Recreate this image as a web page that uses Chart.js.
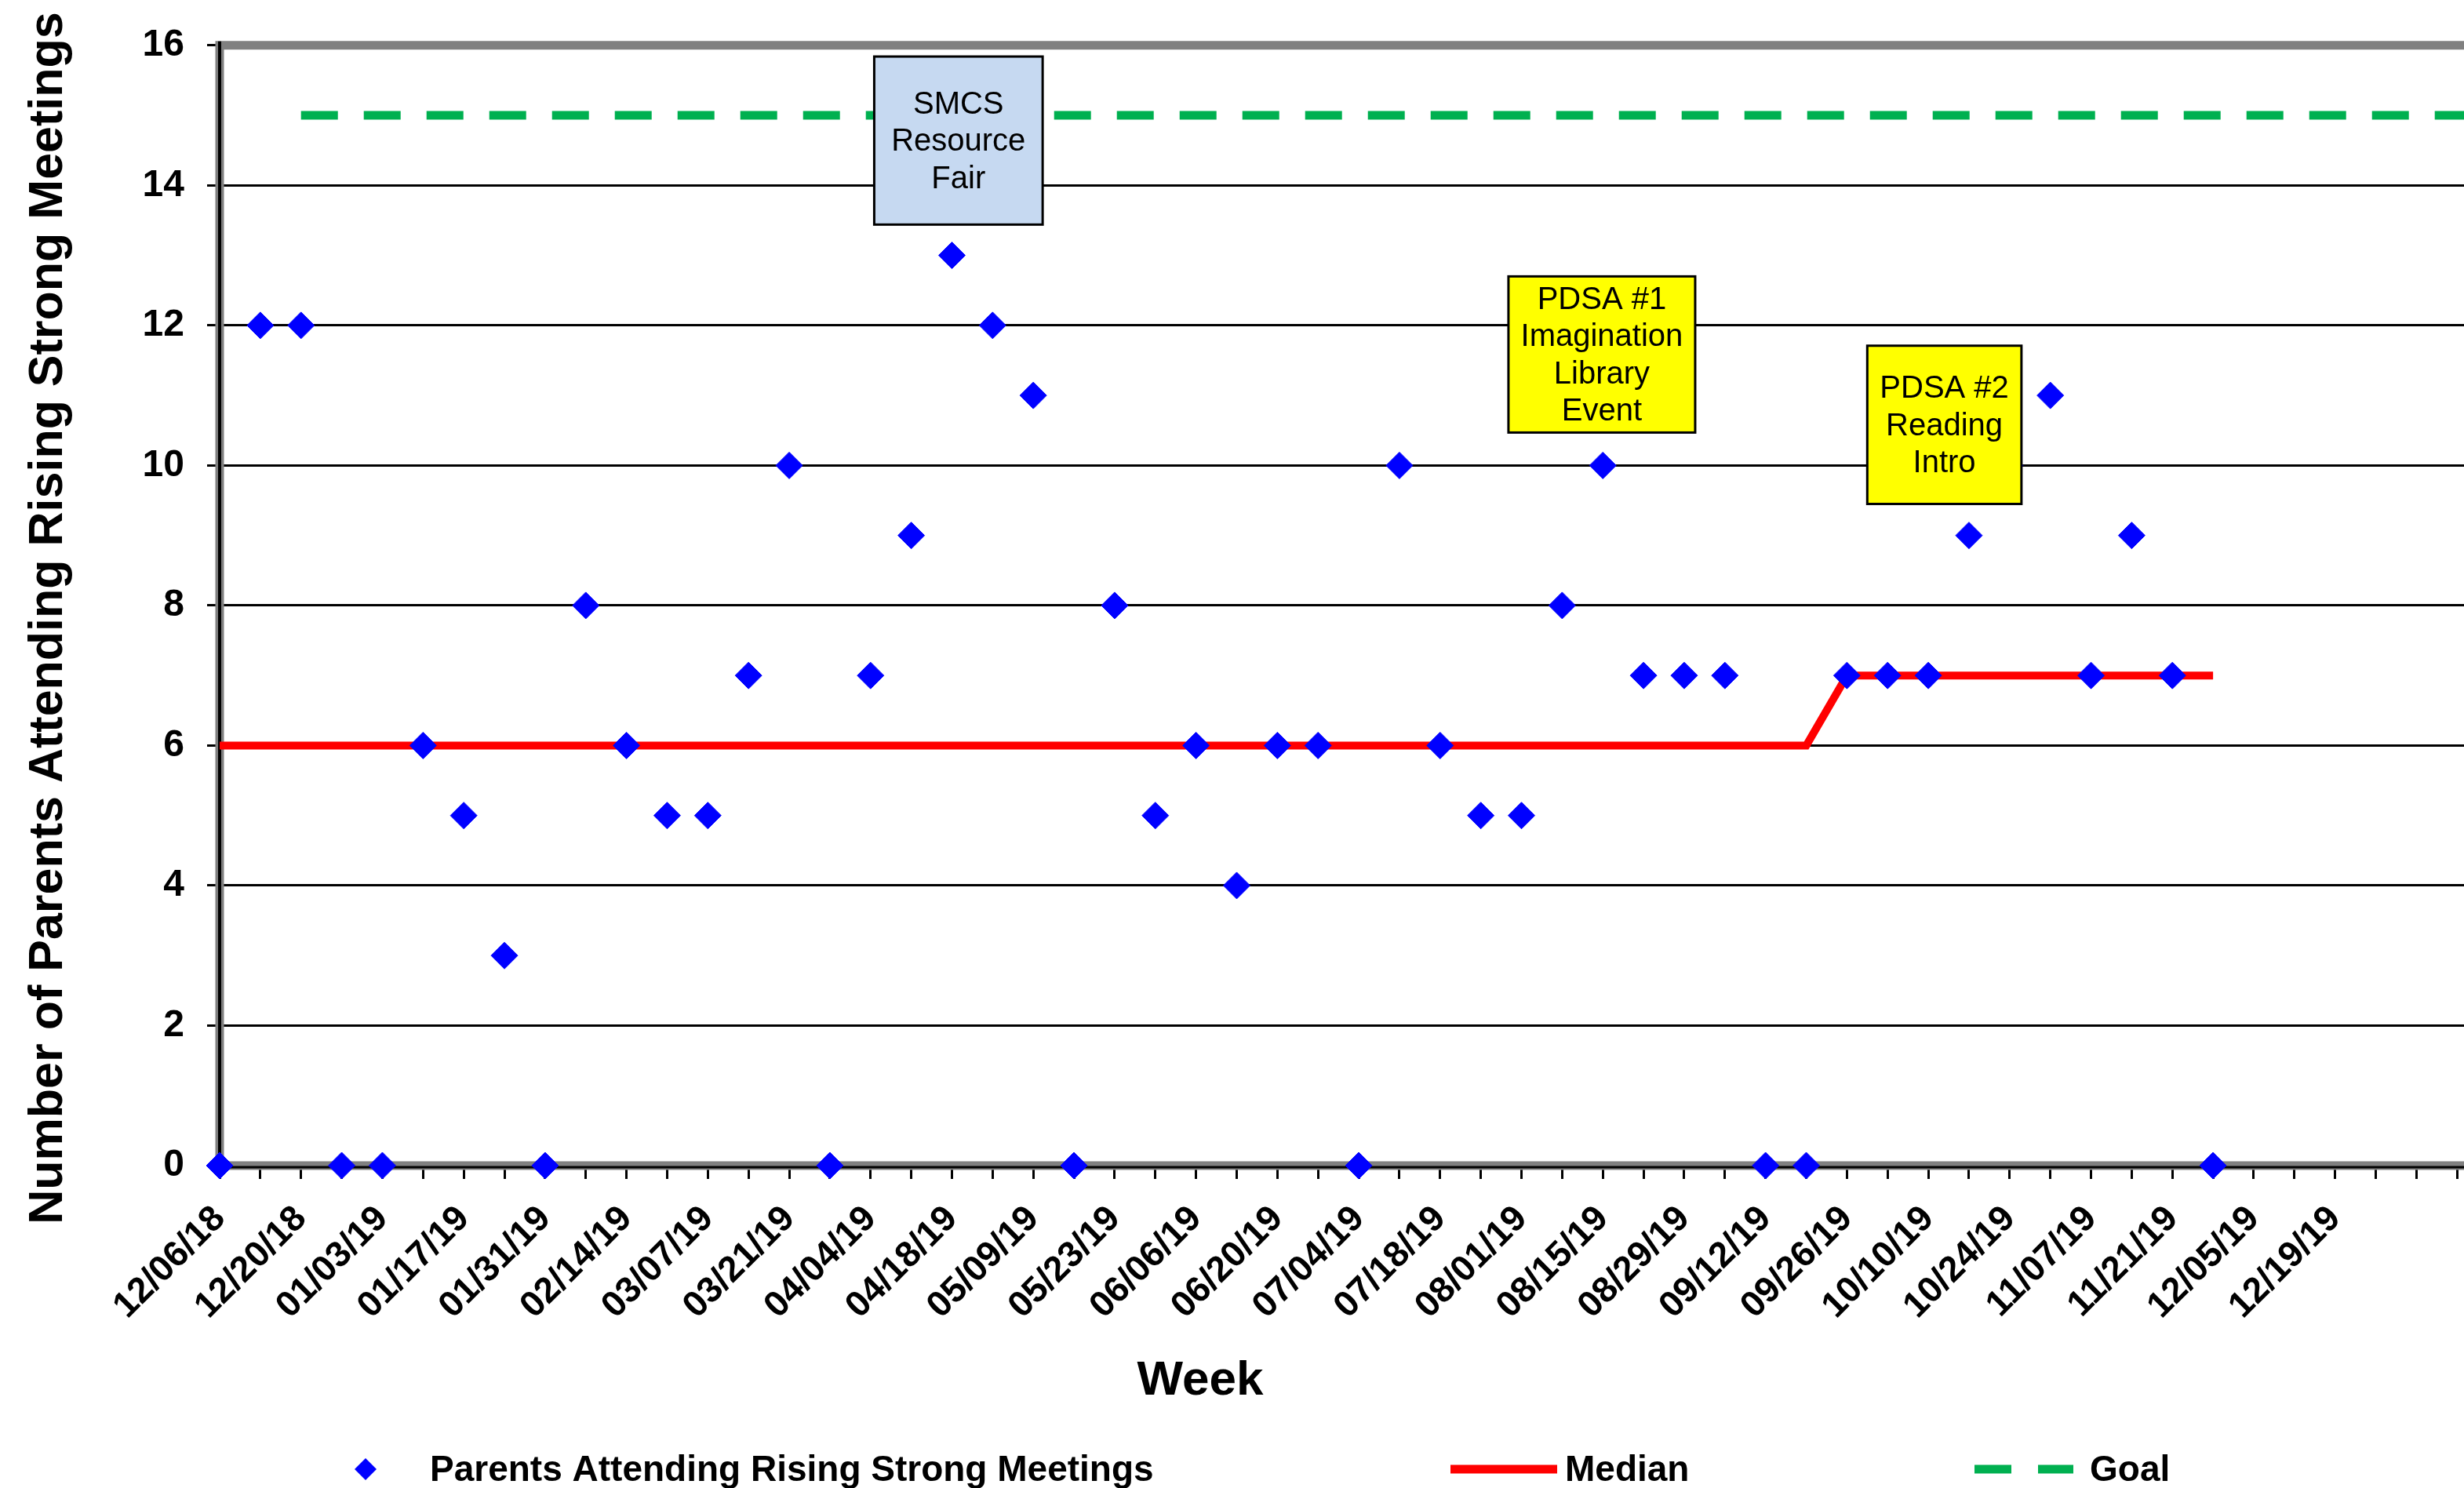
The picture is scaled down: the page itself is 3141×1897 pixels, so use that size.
<!DOCTYPE html>
<html>
<head>
<meta charset="utf-8">
<script src="https://cdn.jsdelivr.net/npm/chart.js@4.4.1/dist/chart.umd.min.js"></script>
<style>
  html, body { margin: 0; padding: 0; background: #fff; overflow: hidden; }
  /* the plot runs past the right edge of the window, like the cropped original */
  #wrap { position: relative; width: 3254px; height: 1897px; }
</style>
</head>
<body>
<div id="wrap"><canvas id="runChart"></canvas></div>
<script>
// week of each meeting (x categories); weeks past the data stay blank on the axis
const weeks = [
  '12/06/18', '12/13/18', '12/20/18', '12/27/18', '01/03/19', '01/10/19', '01/17/19', '01/24/19',
  '01/31/19', '02/07/19', '02/14/19', '02/28/19', '03/07/19', '03/14/19', '03/21/19', '03/28/19',
  '04/04/19', '04/11/19', '04/18/19', '05/02/19', '05/09/19', '05/16/19', '05/23/19', '05/30/19',
  '06/06/19', '06/13/19', '06/20/19', '06/27/19', '07/04/19', '07/11/19', '07/18/19', '07/25/19',
  '08/01/19', '08/08/19', '08/15/19', '08/22/19', '08/29/19', '09/05/19', '09/12/19', '09/19/19',
  '09/26/19', '10/03/19', '10/10/19', '10/17/19', '10/24/19', '10/31/19', '11/07/19', '11/14/19',
  '11/21/19', '11/28/19', '12/05/19', '12/12/19', '12/19/19', '', '', '', '', ''
];

// parents attending each week
const parents = [
  0, 12, 12, 0, 0, 6, 5, 3, 0, 8,
  6, 5, 5, 7, 10, 0, 7, 9, 13, 12,
  11, 0, 8, 5, 6, 4, 6, 6, 0, 10,
  6, 5, 5, 8, 10, 7, 7, 7, 0, 0,
  7, 7, 7, 9, 10, 11, 7, 9, 7, 0
];

// median line
const median = [
  6, 6, 6, 6, 6, 6, 6, 6, 6, 6,
  6, 6, 6, 6, 6, 6, 6, 6, 6, 6,
  6, 6, 6, 6, 6, 6, 6, 6, 6, 6,
  6, 6, 6, 6, 6, 6, 6, 6, 6, 6,
  7, 7, 7, 7, 7, 7, 7, 7, 7, 7
];

// goal line
const goal = [
  null, null, 15, 15, 15, 15, 15, 15, 15, 15,
  15, 15, 15, 15, 15, 15, 15, 15, 15, 15,
  15, 15, 15, 15, 15, 15, 15, 15, 15, 15,
  15, 15, 15, 15, 15, 15, 15, 15, 15, 15,
  15, 15, 15, 15, 15, 15, 15, 15, 15, 15,
  15, 15, 15, 15, 15, 15, 15, 15
];

const yTicks = [0, 2, 4, 6, 8, 10, 12, 14, 16];

// text of the event boxes
const noteTexts = [
  ['SMCS', 'Resource', 'Fair'],
  ['PDSA #1', 'Imagination', 'Library', 'Event'],
  ['PDSA #2', 'Reading', 'Intro']
];

// where the boxes sit, in axis units (category index / value)
const noteBoxes = [
  { x0: 16.09, x1: 20.23, y0: 15.84, y1: 13.44, fill: '#c6d9f1' },
  { x0: 31.68, x1: 36.27, y0: 12.70, y1: 10.47, fill: '#ffff00' },
  { x0: 40.50, x1: 44.29, y0: 11.71, y1: 9.45, fill: '#ffff00' }
];

const FONT = "'Liberation Sans', Arial, sans-serif";
const BLUE = '#0000ff';
const RED = '#ff0000';
const GREEN = '#00b050';

// frame, event boxes, axis titles and legend are drawn by hand
const extras = {
  id: 'extras',
  beforeDatasetsDraw(chart) {
    const { ctx, chartArea: a } = chart;
    ctx.save();
    ctx.strokeStyle = '#808080';
    ctx.lineWidth = 11;
    ctx.beginPath();
    ctx.moveTo(a.left, a.bottom);
    ctx.lineTo(a.left, a.top);
    ctx.lineTo(a.right + 20, a.top);
    ctx.moveTo(a.left, a.bottom);
    ctx.lineTo(a.right + 20, a.bottom);
    ctx.stroke();
    ctx.strokeStyle = '#000';
    ctx.lineWidth = 4;
    ctx.beginPath();
    ctx.moveTo(a.left, a.top - 5);
    ctx.lineTo(a.left, a.bottom + 5);
    ctx.stroke();
    ctx.lineWidth = 3;
    ctx.beginPath();
    ctx.moveTo(a.left, a.bottom + 2);
    ctx.lineTo(a.right + 20, a.bottom + 2);
    ctx.stroke();
    ctx.restore();
  },
  afterDatasetsDraw(chart) {
    const { ctx, scales: { x, y } } = chart;
    ctx.save();
    noteBoxes.forEach((b, k) => {
      const l = x.getPixelForValue(b.x0), r = x.getPixelForValue(b.x1);
      const t = y.getPixelForValue(b.y0), btm = y.getPixelForValue(b.y1);
      ctx.fillStyle = b.fill;
      ctx.fillRect(l, t, r - l, btm - t);
      ctx.strokeStyle = '#000';
      ctx.lineWidth = 3;
      ctx.strokeRect(l, t, r - l, btm - t);
      const lines = noteTexts[k];
      const cx = (l + r) / 2, cy = (t + btm) / 2;
      ctx.fillStyle = '#000';
      ctx.font = '40px ' + FONT;
      ctx.textAlign = 'center';
      ctx.textBaseline = 'middle';
      lines.forEach((s, i) => {
        ctx.fillText(s, cx, cy + (i - (lines.length - 1) / 2) * 47.5 + 2);
      });
    });
    ctx.restore();
  },
  afterDraw(chart) {
    const { ctx } = chart;
    ctx.save();
    ctx.fillStyle = '#000';

    // y axis title
    ctx.save();
    ctx.translate(62, 788);
    ctx.rotate(-Math.PI / 2);
    ctx.font = 'bold 61px ' + FONT;
    ctx.textAlign = 'center';
    ctx.textBaseline = 'middle';
    ctx.fillText('Number of Parents Attending Rising Strong Meetings', 0, 0);
    ctx.restore();

    // x axis title
    ctx.font = 'bold 62px ' + FONT;
    ctx.textAlign = 'center';
    ctx.textBaseline = 'alphabetic';
    ctx.fillText('Week', 1530, 1778);

    // legend
    const ly = 1873, base = 1888;
    ctx.font = 'bold 46px ' + FONT;
    ctx.textAlign = 'left';
    ctx.fillStyle = BLUE;
    ctx.beginPath();
    ctx.moveTo(466, ly - 14);
    ctx.lineTo(480, ly);
    ctx.lineTo(466, ly + 14);
    ctx.lineTo(452, ly);
    ctx.closePath();
    ctx.fill();
    ctx.fillStyle = '#000';
    ctx.fillText('Parents Attending Rising Strong Meetings', 548, base);

    ctx.strokeStyle = RED;
    ctx.lineWidth = 11;
    ctx.beginPath();
    ctx.moveTo(1849, ly);
    ctx.lineTo(1985, ly);
    ctx.stroke();
    ctx.fillText('Median', 1995, base);

    ctx.strokeStyle = GREEN;
    ctx.beginPath();
    ctx.moveTo(2517, ly);
    ctx.lineTo(2564, ly);
    ctx.moveTo(2598, ly);
    ctx.lineTo(2643, ly);
    ctx.stroke();
    ctx.fillText('Goal', 2664, base);
    ctx.restore();
  }
};

new Chart(document.getElementById('runChart'), {
  type: 'line',
  data: {
    labels: weeks,
    datasets: [
      {
        label: 'Parents Attending Rising Strong Meetings',
        data: parents,
        showLine: false,
        pointStyle: 'rectRot',
        pointRadius: 17,
        pointBackgroundColor: BLUE,
        pointBorderColor: BLUE,
        pointBorderWidth: 1,
        borderColor: BLUE,
        clip: false
      },
      {
        label: 'Median',
        data: median,
        borderColor: RED,
        borderWidth: 10,
        pointRadius: 0,
        tension: 0,
        clip: false
      },
      {
        label: 'Goal',
        data: goal,
        borderColor: GREEN,
        borderWidth: 11,
        borderDash: [47, 33],
        pointRadius: 0,
        spanGaps: false
      }
    ]
  },
  options: {
    responsive: true,
    maintainAspectRatio: false,
    animation: false,
    events: [],
    layout: { padding: { top: 57, right: 10, bottom: 0, left: 0 } },
    plugins: { legend: { display: false }, tooltip: { enabled: false } },
    scales: {
      x: {
        grid: { drawOnChartArea: false, color: '#000', lineWidth: 3, tickLength: 17 },
        border: { display: false },
        ticks: {
          autoSkip: false,
          maxRotation: 45,
          minRotation: 45,
          padding: 24,
          color: '#000',
          font: { family: FONT, size: 46, weight: 'bold' },
          callback(v, i) { return i % 2 === 0 ? this.getLabelForValue(v) : ''; }
        },
        afterFit(scale) { scale.height = 411; scale.paddingRight = 0; }
      },
      y: {
        min: 0,
        max: 16,
        afterBuildTicks(scale) { scale.ticks = yTicks.map(v => ({ value: v })); },
        grid: { color: '#000', lineWidth: 3, tickLength: 16 },
        border: { display: false },
        ticks: { padding: 29, color: '#000', font: { family: FONT, size: 48, weight: 'bold' } },
        afterFit(scale) { scale.width = 280; }
      }
    }
  },
  plugins: [extras]
});
</script>
</body>
</html>
